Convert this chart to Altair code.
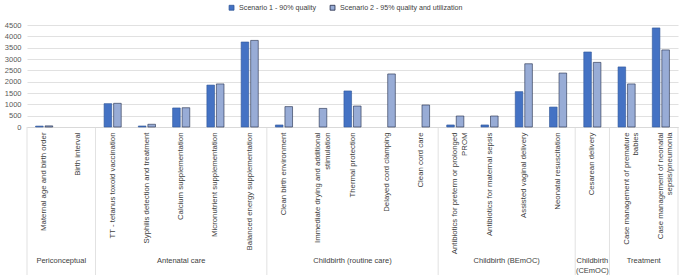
import altair as alt
import pandas as pd

categories = [
    "Maternal age and birth order",
    "Birth interval",
    "TT - tetanus toxoid vaccination",
    "Syphilis detection and treatment",
    "Calcium  supplementation",
    "Micronutrient  supplementation",
    "Balanced energy supplementation",
    "Clean birth environment",
    "Immediate drying and additional|stimulation",
    "Thermal protection",
    "Delayed cord clamping",
    "Clean cord care",
    "Antibiotics for preterm or prolonged|PROM",
    "Antibiotics for maternal sepsis",
    "Assisted vaginal delivery",
    "Neonatal resuscitation",
    "Cesarean delivery",
    "Case management of premature|babies",
    "Case management of neonatal|sepsis/pneumonia",
]
scenario1 = [40, 0, 1030, 45, 840, 1850, 3750, 90, 0, 1590, 0, 0, 90, 90, 1560, 880, 3310, 2650, 4370]
scenario2 = [50, 0, 1045, 120, 850, 1900, 3820, 900, 820, 925, 2340, 970, 485, 485, 2790, 2380, 2850, 1900, 3400]
group_names = ["Periconceptual", "Antenatal care", "Childbirth (routine care)",
               "Childbirth (BEmOC)", "Childbirth\n(CEmOC)", "Treatment"]
group_sizes = [2, 5, 5, 4, 1, 2]
series_names = ["Scenario 1  - 90% quality", "Scenario 2 - 95% quality and utilization"]
y_ticks = [0, 500, 1000, 1500, 2000, 2500, 3000, 3500, 4000, 4500]

rows = []
for c, a, b in zip(categories, scenario1, scenario2):
    rows.append({"category": c, "scenario": series_names[0], "value": a})
    rows.append({"category": c, "scenario": series_names[1], "value": b})
df = pd.DataFrame(rows)
df = df[df["value"] > 0]

bounds = [0]
for s in group_sizes:
    bounds.append(bounds[-1] + s)
sep_df = pd.DataFrame({"pos": bounds})
grp_df = pd.DataFrame({
    "name": group_names,
    "center": [(bounds[i] + bounds[i + 1]) / 2 for i in range(len(group_names))],
})

FONT = "Liberation Sans"
n = len(categories)
idx_scale = alt.Scale(domain=[0, n], nice=False, zero=False)

legend_cfg = dict(title=None, orient="none", legendX=201, legendY=-21, direction="horizontal",
                  symbolType="square", symbolSize=24, labelFontSize=7.1, labelColor="#404040",
                  columnPadding=10, labelFont=FONT, symbolStrokeWidth=0.8)

bars = alt.Chart(df).mark_bar(strokeWidth=0.6).encode(
    x=alt.X("category:N", scale=alt.Scale(domain=categories, paddingInner=0, paddingOuter=0),
            axis=alt.Axis(title=None, labelAngle=-90, labelAlign="right", labelBaseline="middle",
                          labelPadding=5, labelFontSize=7.8, labelColor="#404040", labelFont=FONT,
                          labelOverlap=False, labelLimit=300, ticks=False,
                          domainColor="#d9d9d9", labelLineHeight=9.5,
                          labelExpr="split(datum.label, '|')")),
    xOffset=alt.XOffset("scenario:N", scale=alt.Scale(domain=series_names, paddingInner=0.2, paddingOuter=0.9)),
    y=alt.Y("value:Q", scale=alt.Scale(domain=[0, 4500], nice=False),
            axis=alt.Axis(title=None, values=y_ticks, format="d", domain=False, ticks=False, labelPadding=6,
                          labelFontSize=7.5, labelColor="#595959", labelFont=FONT,
                          gridColor="#d9d9d9", gridWidth=0.8)),
    fill=alt.Fill("scenario:N", scale=alt.Scale(domain=series_names, range=["#4472c4", "#98acd6"]),
                  legend=alt.Legend(**legend_cfg)),
    stroke=alt.Stroke("scenario:N", scale=alt.Scale(domain=series_names, range=["#2f5597", "#1f2a48"]),
                      legend=alt.Legend(**legend_cfg)),
)

seps = alt.Chart(sep_df).mark_rule(color="#d9d9d9", strokeWidth=0.8).encode(
    x=alt.X("pos:Q", scale=idx_scale, axis=None),
    y=alt.value(102),
    y2=alt.value(250),
)

glabels = alt.Chart(grp_df).mark_text(baseline="top", align="center", lineBreak="\n",
                                      fontSize=7.5, color="#404040", font=FONT, lineHeight=10).encode(
    x=alt.X("center:Q", scale=idx_scale, axis=None),
    y=alt.value(232),
    text="name:N",
)

chart = alt.layer(bars, seps, glabels).resolve_scale(x="independent").properties(
    width=651, height=102,
    padding={"left": 27, "top": 25, "right": 7, "bottom": 151},
    autosize=alt.AutoSizeParams(type="none"),
).configure_view(stroke=None)

chart.save("out.html", embed_options={"renderer": "svg", "actions": False})
